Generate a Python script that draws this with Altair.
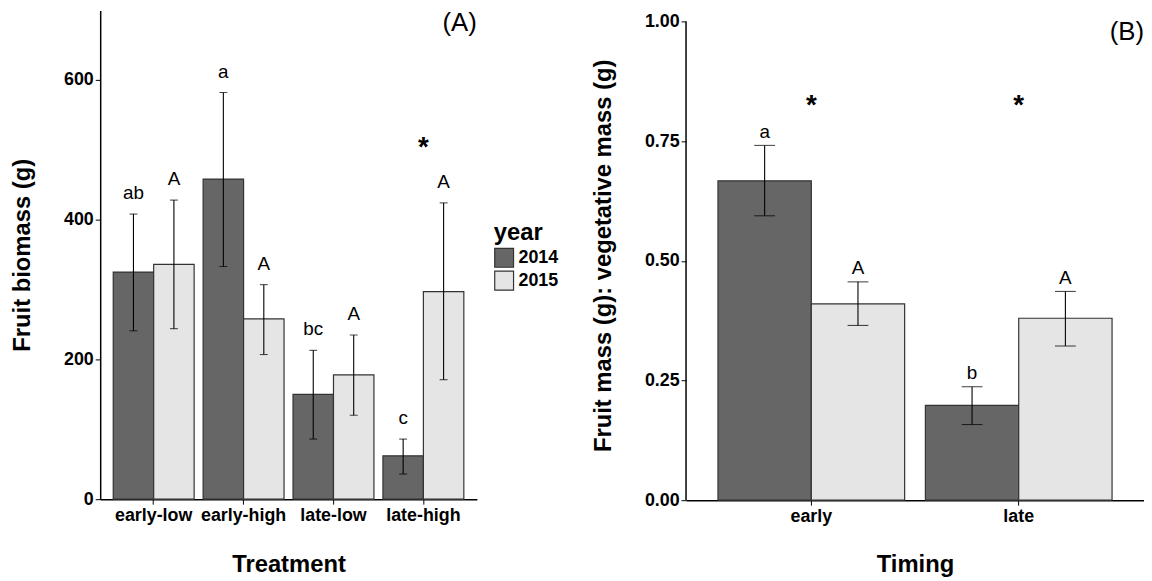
import altair as alt
import pandas as pd

FONT = "Liberation Sans"

# ---------------- Panel A data ----------------
treatments = ["early-low", "early-high", "late-low", "late-high"]
years = ["2014", "2015"]

biomass_2014 = [325, 458, 150, 62]
biomass_2015 = [336, 258, 178, 297]
biomass_lo_2014 = [241, 333, 86, 36]
biomass_hi_2014 = [408, 582, 213, 86]
biomass_lo_2015 = [244, 207, 120, 171]
biomass_hi_2015 = [428, 307, 235, 424]
letters_A_2014 = ["ab", "a", "bc", "c"]
letters_A_2015 = ["A", "A", "A", "A"]
star_A_treatment = ["late-high"]
star_A_y = [503]

# ---------------- Panel B data ----------------
timing = ["early", "late"]
ratio_2014 = [0.667, 0.198]
ratio_2015 = [0.410, 0.380]
ratio_lo_2014 = [0.594, 0.158]
ratio_hi_2014 = [0.741, 0.237]
ratio_lo_2015 = [0.365, 0.322]
ratio_hi_2015 = [0.456, 0.436]
letters_B_2014 = ["a", "b"]
letters_B_2015 = ["A", "A"]
star_B_timing = ["early", "late"]
star_B_y = [0.823, 0.823]
axis_B_range = [0.0, 1.0]

bar_colors = ["#666666", "#e5e5e5"]


def long_df(cats, v14, v15, lo14, lo15, hi14, hi15, l14, l15, catname):
    rows = []
    for i, c in enumerate(cats):
        rows.append({catname: c, "year": "2014", "value": v14[i], "lo": lo14[i], "hi": hi14[i], "letter": l14[i]})
        rows.append({catname: c, "year": "2015", "value": v15[i], "lo": lo15[i], "hi": hi15[i], "letter": l15[i]})
    return pd.DataFrame(rows)


dfA = long_df(treatments, biomass_2014, biomass_2015, biomass_lo_2014, biomass_lo_2015,
              biomass_hi_2014, biomass_hi_2015, letters_A_2014, letters_A_2015, "treatment")
dfB = long_df(timing, ratio_2014, ratio_2015, ratio_lo_2014, ratio_lo_2015,
              ratio_hi_2014, ratio_hi_2015, letters_B_2014, letters_B_2015, "timing")
starA = pd.DataFrame({"treatment": star_A_treatment, "y": star_A_y})
starB = pd.DataFrame({"timing": star_B_timing, "y": star_B_y})
axisB = pd.DataFrame({"lo": [axis_B_range[0]], "hi": [axis_B_range[1]]})

xoff = alt.XOffset("year:N", sort=years,
                   scale=alt.Scale(domain=years, paddingInner=0, paddingOuter=0))
color_enc_A = alt.Color(
    "year:N", sort=years,
    scale=alt.Scale(domain=years, range=bar_colors),
    legend=alt.Legend(
        orient="none", legendX=397, legendY=212.5, title="year",
        titleFontSize=24, titleFontWeight="bold", titleColor="black", titleFont=FONT,
        titlePadding=2.5, labelFontSize=18, labelFontWeight="bold", labelColor="black",
        labelFont=FONT, symbolType="square", symbolSize=361, symbolStrokeColor="#333333",
        symbolStrokeWidth=1.2, symbolOpacity=1, rowPadding=-2, labelOffset=4, padding=0,
    ),
)
color_enc_B = alt.Color("year:N", sort=years,
                        scale=alt.Scale(domain=years, range=bar_colors), legend=None)

# ---------------- Panel A ----------------
WA, HA = 380, 493
xA = alt.X("treatment:N", sort=treatments, title="Treatment",
           scale=alt.Scale(domain=treatments, paddingInner=0.1, paddingOuter=0.145),
           axis=alt.Axis(labelAngle=0, labelPadding=3, titlePadding=28))


def yA(field):
    return alt.Y(field, title="Fruit biomass (g)",
                 scale=alt.Scale(domain=[0, 699.3], nice=False, zero=True),
                 axis=alt.Axis(values=[0, 200, 400, 600], titlePadding=29.5))


baseA = alt.Chart(dfA).encode(x=xA, xOffset=xoff)
barsA = baseA.mark_bar(stroke="#333333", strokeWidth=1.2).encode(y=yA("value:Q"), color=color_enc_A)
errA = baseA.mark_rule(color="black", strokeWidth=1.1).encode(y=yA("lo:Q"), y2="hi:Q")
capA = baseA.transform_fold(["lo", "hi"], as_=["bound", "bval"]).mark_tick(
    color="black", thickness=1.1, size=8).encode(y=yA("bval:Q"))
txtA = baseA.mark_text(fontSize=19, dy=-21, baseline="middle", font=FONT, color="black").encode(
    y=yA("hi:Q"), text="letter:N")
starAm = alt.Chart(starA).mark_text(text="*", fontSize=28, fontWeight="bold", baseline="middle",
                                     font=FONT, color="black").encode(x=xA, y=yA("y:Q"))
labA = alt.Chart(pd.DataFrame({"label": ["(A)"]})).mark_text(
    align="right", baseline="middle", fontSize=26, font=FONT, color="black").encode(
    x=alt.value(WA), y=alt.value(13), text="label:N")

panelA = alt.layer(barsA, errA, capA, txtA, starAm, labA).properties(width=WA, height=HA)

# ---------------- Panel B ----------------
WB, HB = 462, 494
xB = alt.X("timing:N", sort=timing, title="Timing",
           scale=alt.Scale(domain=timing, paddingInner=0.1, paddingOuter=0.154),
           axis=alt.Axis(labelAngle=0, labelPadding=3, titlePadding=27))


def yB(field):
    return alt.Y(field, title="Fruit mass (g): vegetative mass (g)",
                 scale=alt.Scale(domain=[0, 1.0228], nice=False, zero=True),
                 axis=alt.Axis(values=[0, 0.25, 0.5, 0.75, 1.0], format=".2f",
                               domain=False, titlePadding=29))


baseB = alt.Chart(dfB).encode(x=xB, xOffset=xoff)
barsB = baseB.mark_bar(stroke="#333333", strokeWidth=1.2).encode(y=yB("value:Q"), color=color_enc_B)
errB = baseB.mark_rule(color="black", strokeWidth=1.1).encode(y=yB("lo:Q"), y2="hi:Q")
capB = baseB.transform_fold(["lo", "hi"], as_=["bound", "bval"]).mark_tick(
    color="black", thickness=1.1, size=21).encode(y=yB("bval:Q"))
txtB = baseB.mark_text(fontSize=19, dy=-13.5, baseline="middle", font=FONT, color="black").encode(
    y=yB("hi:Q"), text="letter:N")
starBm = alt.Chart(starB).mark_text(text="*", fontSize=28, fontWeight="bold", baseline="middle",
                                     font=FONT, color="black").encode(x=xB, y=yB("y:Q"))
axisLineB = alt.Chart(axisB).mark_rule(color="black", strokeWidth=1.5).encode(
    x=alt.value(0), y=yB("lo:Q"), y2="hi:Q")
labB = alt.Chart(pd.DataFrame({"label": ["(B)"]})).mark_text(
    align="right", baseline="middle", fontSize=26, font=FONT, color="black").encode(
    x=alt.value(WB), y=alt.value(22), text="label:N")

panelB = alt.layer(barsB, errB, capB, txtB, starBm, axisLineB, labB).properties(width=WB, height=HB)

chart = alt.hconcat(panelA, panelB, spacing=32).resolve_scale(
    color="independent", xOffset="independent").resolve_legend(color="independent").properties(
    padding={"left": 2, "top": 0, "right": 0, "bottom": 0}
).configure(font=FONT).configure_view(stroke=None).configure_axis(
    grid=False, domainColor="black", domainWidth=1.5, tickColor="black", tickSize=5,
    tickWidth=1, labelFontSize=18, labelFontWeight="bold", labelColor="black",
    labelPadding=2, labelFont=FONT, titleFontSize=24, titleFontWeight="bold",
    titleColor="black", titleFont=FONT,
)

chart.save("out.html", embed_options={"renderer": "svg", "actions": False})
